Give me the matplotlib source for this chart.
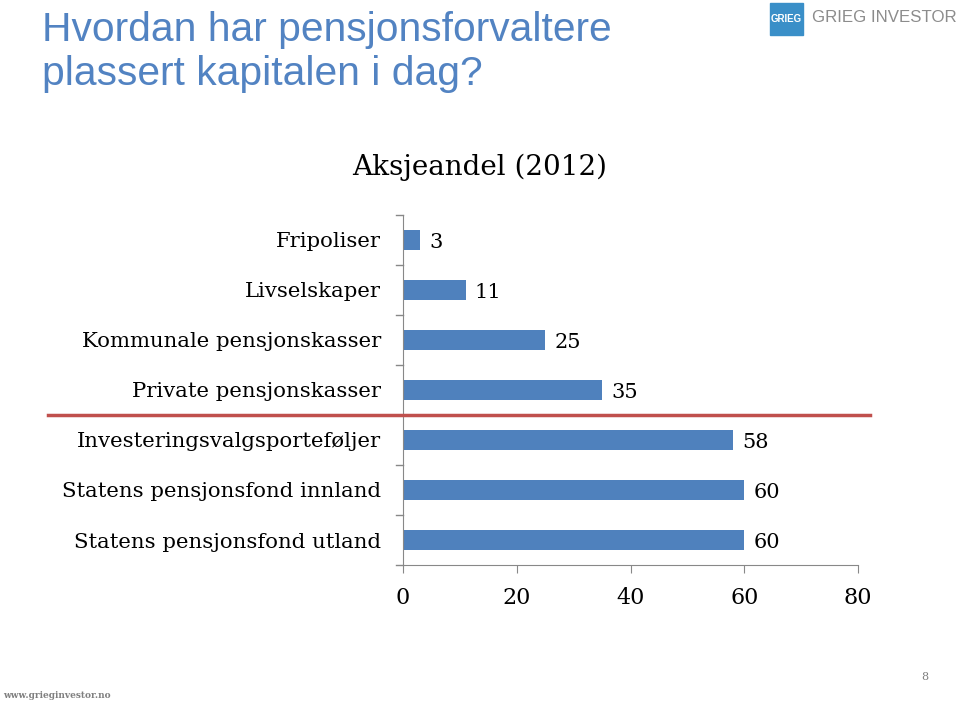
import matplotlib.pyplot as plt
from matplotlib.patches import Rectangle
from matplotlib.lines import Line2D

# Data
categories = ['Fripoliser', 'Livselskaper', 'Kommunale pensjonskasser',
              'Private pensjonskasser', 'Investeringsvalgsporteføljer',
              'Statens pensjonsfond innland', 'Statens pensjonsfond utland']
values = [3, 11, 25, 35, 58, 60, 60]
xticks = [0, 20, 40, 60, 80]

serif = ['DejaVu Serif']
sans = ['Liberation Sans', 'DejaVu Sans']
bar_color = '#4F81BD'

fig = plt.figure(figsize=(9.6, 7.02), dpi=100)
ax = fig.add_axes([403 / 960, 1 - 565 / 702, (858 - 403) / 960, (565 - 215) / 702])

ypos = list(range(len(categories)))
ax.barh(ypos, values, height=0.4, color=bar_color)
ax.set_ylim(len(categories) - 0.5, -0.5)
ax.set_xlim(0, 80)

for y, v in zip(ypos, values):
    ax.text(v + 1.6, y + 0.06, str(v), va='center', ha='left',
            fontsize=15, family=serif)

# y axis: labels between tick marks on category boundaries
ax.set_yticks(ypos)
ax.set_yticklabels(categories, family=serif, fontsize=15.3)
ax.tick_params(axis='y', length=0, pad=16)
for b in [y - 0.5 for y in ypos] + [len(categories) - 0.5]:
    ax.plot([-1.2, 0], [b, b], color='#888888', lw=1, clip_on=False)

ax.set_xticks(xticks)
ax.set_xticklabels([str(t) for t in xticks], family=serif, fontsize=16)
ax.tick_params(axis='x', direction='out', length=6, color='#888888', pad=10)

for s in ['top', 'right']:
    ax.spines[s].set_visible(False)
ax.spines['left'].set_color('#888888')
ax.spines['bottom'].set_color('#888888')

# red separator line
fig.add_artist(Line2D([48 / 960, 870 / 960], [1 - 415 / 702] * 2,
                      color='#C0504D', lw=2.5))

# chart title
fig.text(480 / 960, 1 - 167 / 702, 'Aksjeandel (2012)', ha='center', va='center',
         family=serif, fontsize=20)

# slide title
fig.text(42 / 960, 1 - 30 / 702, 'Hvordan har pensjonsforvaltere', ha='left',
         va='center', family=sans, fontsize=29.3, color='#5283C2')
fig.text(42 / 960, 1 - 74 / 702, 'plassert kapitalen i dag?', ha='left',
         va='center', family=sans, fontsize=29.3, color='#5283C2')

# logo
fig.add_artist(Rectangle((770 / 960, 1 - 35 / 702), 33 / 960, 32 / 702,
                         color='#3A8FC8', transform=fig.transFigure))
fig.text(786.5 / 960, 1 - 19 / 702, 'GRIEG', ha='center', va='center',
         family=sans, fontsize=7, color='white', fontweight='bold')
fig.text(812 / 960, 1 - 18 / 702, 'GRIEG INVESTOR', ha='left', va='center',
         family=sans, fontsize=12.2, color='#8C8C8C')

# footer
fig.text(3 / 960, 1 - 695 / 702, 'www.grieginvestor.no', ha='left', va='center',
         family=serif, fontsize=6.5, color='#7F7F7F', fontweight='bold')
fig.text(925 / 960, 1 - 677 / 702, '8', ha='center', va='center',
         family=serif, fontsize=8, color='#7F7F7F')

fig.savefig('out.png', dpi=100)
